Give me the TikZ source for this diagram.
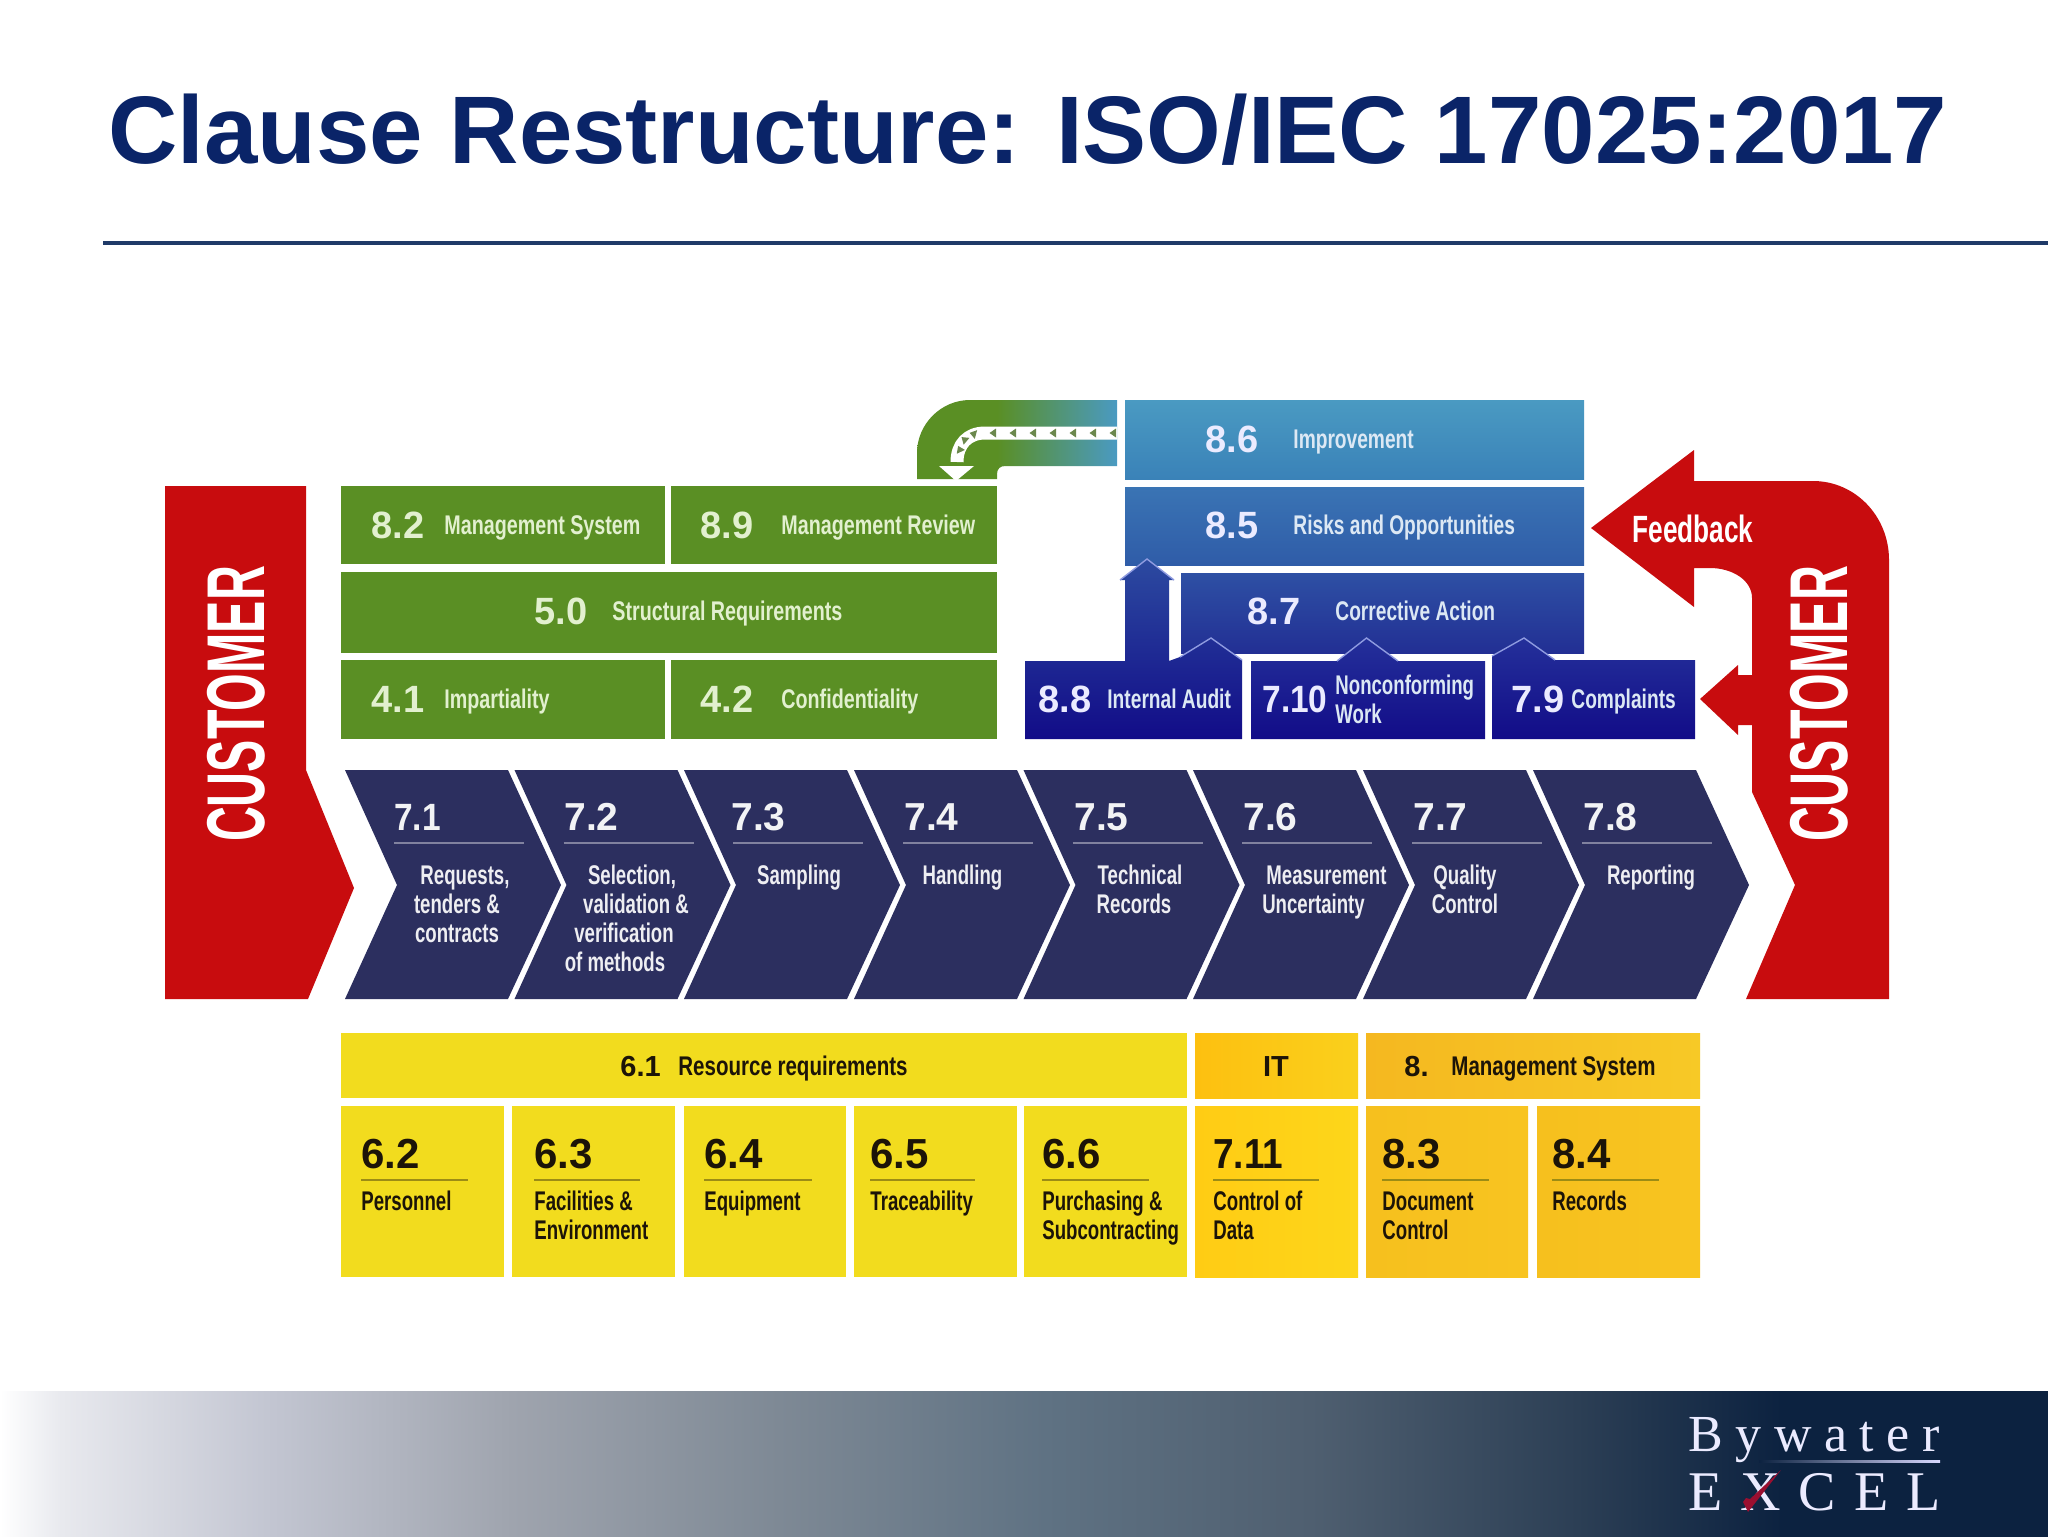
\documentclass[tikz,border=0pt]{standalone}
\usepackage{fontspec}
\setmainfont{Liberation Sans}
\newfontfamily\condf[FakeStretch=0.69]{Liberation Sans}
\newfontfamily\condg[FakeStretch=0.73]{Liberation Sans}
\newfontfamily\condb[FakeStretch=0.71]{Liberation Sans}
\newfontfamily\condy[FakeStretch=0.76]{Liberation Sans}
\newfontfamily\narrownum[FakeStretch=0.88]{Liberation Sans}
\newfontfamily\custf[FakeStretch=0.59]{Liberation Sans}
\newfontfamily\logof[LetterSpace=24]{Liberation Serif}
\newfontfamily\logoe[LetterSpace=32]{Liberation Serif}
\definecolor{navy}{HTML}{2C2F5F}
\definecolor{titleblue}{HTML}{0A2468}
\definecolor{rulec}{HTML}{1F3A68}
\definecolor{grn}{HTML}{5A8F24}
\definecolor{grntx}{HTML}{E2F0CF}
\definecolor{redc}{HTML}{C80C0E}
\definecolor{yel}{HTML}{F2DC1E}
\definecolor{bluetx}{HTML}{DCE8F4}
\definecolor{peak}{HTML}{8F9BE0}
\definecolor{ink}{HTML}{1C1408}
\definecolor{HTMLa}{HTML}{9FA4AE}
\definecolor{HTMLb}{HTML}{7E8995}
\definecolor{HTMLc}{HTML}{C3C6D2}
\definecolor{HTMLd}{HTML}{5F7283}
\definecolor{HTMLe}{HTML}{4F5F70}
\definecolor{HTMLf}{HTML}{2C3F55}
\definecolor{HTMLg}{HTML}{0C2240}
\definecolor{HTMLw}{HTML}{E8E9EE}
\definecolor{arcblue}{HTML}{4A9AC2}
\definecolor{blue86a}{HTML}{4A9AC2}
\definecolor{blue86b}{HTML}{3A82B8}
\definecolor{blue85a}{HTML}{3A74B4}
\definecolor{blue85b}{HTML}{2F5CA8}
\definecolor{blue87a}{HTML}{2E50A4}
\definecolor{blue87b}{HTML}{222F94}
\definecolor{blue88a}{HTML}{2C4AA0}
\definecolor{blue88b}{HTML}{120C88}
\definecolor{blue7a}{HTML}{24309A}
\definecolor{yA}{HTML}{FDC010}
\definecolor{yB}{HTML}{FAD01C}
\definecolor{yC}{HTML}{F5B820}
\definecolor{yD}{HTML}{F7C926}
\definecolor{yE}{HTML}{FFCC14}
\definecolor{yF}{HTML}{FDD61A}
\definecolor{yG}{HTML}{F6C01E}
\definecolor{yH}{HTML}{F8C420}
\definecolor{chk}{HTML}{9A0F30}
\pgfdeclarehorizontalshading{footershade}{100bp}{
 color(0bp)=(white); color(25bp)=(white); color(26.5bp)=(HTMLw); color(31.5bp)=(HTMLc);
 color(37.5bp)=(HTMLa); color(44bp)=(HTMLb); color(50.5bp)=(HTMLd);
 color(57bp)=(HTMLe); color(63.5bp)=(HTMLf); color(68.5bp)=(HTMLg); color(100bp)=(HTMLg)}
\pgfdeclarehorizontalshading{arcshade}{100bp}{
 color(0bp)=(grn); color(45bp)=(grn); color(75bp)=(arcblue); color(100bp)=(arcblue)}
\newcommand\fnum{\fontsize{19}{21}\selectfont\bfseries}
\newcommand\fnarrow{\fontsize{19}{21}\selectfont\narrownum\bfseries}
\newcommand\fnarrowy{\fontsize{21}{23}\selectfont\narrownum\bfseries}
\newcommand\fbig{\fontsize{19.5}{22}\selectfont\bfseries}
\newcommand\fyel{\fontsize{21}{23}\selectfont\bfseries}
\newcommand\fsmall{\fontsize{14.5}{16}\selectfont\bfseries}
\newcommand\fcond{\fontsize{13.5}{14.5}\selectfont\condf\bfseries}
\newcommand\fcondg{\fontsize{13.5}{14.5}\selectfont\condg\bfseries}
\newcommand\fcondb{\fontsize{13.5}{14.5}\selectfont\condb\bfseries}
\newcommand\fcondy{\fontsize{13.5}{14.5}\selectfont\condy\bfseries}
\newcommand\fcust{\fontsize{41}{46}\selectfont\custf\bfseries}
\newcommand\ffeed{\fontsize{19}{21}\selectfont\condf\bfseries}
\tikzset{
 num/.style={font=\fnum,inner sep=0pt,anchor=base west,yshift=-6.5pt},
 lab/.style={font=\fcond,inner sep=0pt,anchor=base west,yshift=-4.8pt},
 mlab/.style={font=\fcond,inner sep=0pt,anchor=west,align=left},
 clab/.style={font=\fcond,inner sep=0pt,anchor=center,align=center,text=white!92!navy},
 gtx/.style={text=grntx,font=\fcondg},
 gnum/.style={text=grntx},
 btx/.style={text=bluetx,font=\fcondb},
 bnum/.style={text=white!92!blue},
 ytx/.style={text=ink},
 hair/.style={line width=0.6pt},
 chev/.style={fill=navy},
 peakline/.style={draw=peak,line width=0.7pt},
 tick/.style={fill=grn!55!gray}
}
\begin{document}
\begin{tikzpicture}[x=0.5pt,y=-0.5pt]
\useasboundingbox (0,0) rectangle (2048,1536);
\fill[white] (0,0) rectangle (2048,1536);
% title
\node[font=\fontsize{48}{54}\selectfont\bfseries,text=titleblue,inner sep=0pt,anchor=base west] (title) at (108,163) {Clause Restructure: ISO/IEC 17025:2017};
\draw[rulec,line width=2pt] (103,243) -- (2048,243);
% left customer
\fill[redc] (165,486) -- (306,486) -- (306,770) -- (354,888) -- (308,999) -- (165,999) -- cycle;
\node[font=\fcust,text=white,rotate=90,inner sep=0pt] (custL) at (236,704) {CUSTOMER};
% right customer
\fill[redc] (1591,528) -- (1694,450) -- (1694,481) -- (1813,481) .. controls (1855,481) and (1889,516) .. (1889,560)
 -- (1889,999) -- (1746,999) -- (1795,885) -- (1752,792) -- (1752,725) -- (1738,725) -- (1738,735) -- (1700,699) -- (1738,665) -- (1738,675) -- (1752,675) -- (1752,598)
 .. controls (1752,580) and (1732,568) .. (1710,568) -- (1694,568) -- (1694,607) -- cycle;
\node[font=\fcust,text=white,rotate=90,inner sep=0pt] (custR) at (1819,704) {CUSTOMER};
\node[font=\ffeed,text=white,inner sep=0pt] (feed) at (1693,529) {Feedback};
% green arc arrow
\shade[shading=arcshade] (1117,400) -- (970,400) .. controls (941,400) and (917,424) .. (917,453) -- (917,479) -- (997,479) -- (997,474) .. controls (997,469) and (1000,466) .. (1005,466) -- (1117,466) -- cycle;
\draw[white,line width=6.5pt] (1117,433) -- (985,433) .. controls (968,433) and (957,444) .. (957,462);
\fill[white] (939,466) -- (974,466) -- (956,481) -- cycle;
\foreach \tx in {1114,1094,...,994}{\fill[tick,shift={(\tx,433)}] (-4.5,0) -- (2,-4.5) -- (2,4.5) -- cycle;}
\foreach \tx/\ty/\ta in {974/434/-15,965/440/-40,960/450/-65}{\fill[tick,shift={(\tx,\ty)},rotate=\ta] (-4.5,0) -- (2,-4.5) -- (2,4.5) -- cycle;}
% green boxes
\fill[grn] (341,486) rectangle (665,564);
\fill[grn] (671,486) rectangle (997,564);
\fill[grn] (341,572) rectangle (997,653);
\fill[grn] (341,660) rectangle (665,739);
\fill[grn] (671,660) rectangle (997,739);
\node[num,gnum] (n82) at (371,525) {8.2};
\node[lab,gtx] (t82) at (444,525) {Management System};
\node[num,gnum] (n89) at (700,525) {8.9};
\node[lab,gtx] (t89) at (781,525) {Management Review};
\node[num,gnum] (n50) at (534,611) {5.0};
\node[lab,gtx] (t50) at (612,611) {Structural Requirements};
\node[num,gnum] (n41) at (371,699) {4.1};
\node[lab,gtx] (t41) at (444,699) {Impartiality};
\node[num,gnum] (n42) at (700,699) {4.2};
\node[lab,gtx] (t42) at (781,699) {Confidentiality};
% blue boxes
\shade[top color=blue86a,bottom color=blue86b] (1125,400) rectangle (1584,479);
\shade[top color=blue85a,bottom color=blue85b] (1125,487) rectangle (1584,565);
\shade[top color=blue87a,bottom color=blue87b] (1181,573) rectangle (1584,653);
% 8.8 with up arrow and peak
\shade[top color=blue88a,bottom color=blue88b] (1025,739) -- (1025,661) -- (1125,661) -- (1125,580) -- (1120,580) -- (1147,559) -- (1174,580) -- (1169,580) -- (1169,661) -- (1180,657) -- (1211,638) -- (1242,660) -- (1242,739) -- cycle;
\draw[peakline] (1120,580) -- (1147,559) -- (1174,580);
\draw[peakline] (1180,657) -- (1211,638) -- (1242,660);
% 7.10
\shade[top color=blue7a,bottom color=blue88b] (1251,739) -- (1251,661) -- (1337,661) -- (1366.5,638) -- (1398,661) -- (1485,661) -- (1485,739) -- cycle;
\draw[peakline] (1337,661) -- (1366.5,638) -- (1398,661);
% 7.9
\shade[top color=blue7a,bottom color=blue88b] (1492,739) -- (1492,656) -- (1524,638) -- (1555,660) -- (1695,660) -- (1695,739) -- cycle;
\draw[peakline] (1492,656) -- (1524,638) -- (1555,660);
\node[num,bnum] (n86) at (1205,439) {8.6};
\node[lab,btx] (t86) at (1293,439) {Improvement};
\node[num,bnum] (n85) at (1205,525) {8.5};
\node[lab,btx] (t85) at (1293,525) {Risks and Opportunities};
\node[num,bnum] (n87) at (1247,611) {8.7};
\node[lab,btx] (t87) at (1335,611) {Corrective Action};
\node[num,bnum] (n88) at (1038,699) {8.8};
\node[lab,btx] (t88) at (1107,699) {Internal Audit};
\node[num,bnum,font=\fnarrow] (n710) at (1262,699) {7.10};
\node[mlab,text=bluetx] (t710) at (1335,699) {Nonconforming\\Work};
\node[num,bnum] (n79) at (1511,699) {7.9};
\node[lab,btx] (t79) at (1571,699) {Complaints};
% chevrons
\foreach \i/\cx in {0/345,1/514.5,2/684,3/854,4/1023.5,5/1193,6/1363,7/1533}{
 \fill[chev] (\cx,770) -- ({\cx+163},770) -- ({\cx+216},885) -- ({\cx+163},999) -- (\cx,999) -- ({\cx+52},885) -- cycle;
 \draw[white!40!navy,hair] ({\cx+49},843) -- ({\cx+179},843);
}
\foreach \nam/\tx/\lbl in {2/564/7.2,3/731/7.3,4/904/7.4,5/1074/7.5,6/1243/7.6,7/1413/7.7,8/1583/7.8}{
 \node[font=\fbig,text=white!94!navy,inner sep=0pt,anchor=base west,yshift=-7pt] (c\nam) at (\tx,816) {\lbl};
}
\node[font=\fnarrow,text=white!94!navy,inner sep=0pt,anchor=base west,yshift=-7pt] (c1) at (394,816) {7.1};
\node[clab] (l71) at (457,904) {\hspace*{8pt}Requests,\\tenders \&\\contracts};
\node[clab] (l72) at (624,918) {\hspace*{8pt}Selection,\\\hspace*{12pt}validation \&\\verification\\of methods\hspace*{9pt}};
\node[clab] (l73) at (799,878) {Sampling};
\node[clab] (l74) at (962.5,878) {Handling};
\node[clab] (l75) at (1137,889) {\hspace*{3pt}Technical\\Records\hspace*{3pt}};
\node[clab] (l76) at (1320,892) {\hspace*{6.5pt}Measurement\\Uncertainty\hspace*{6.5pt}};
\node[clab] (l77) at (1465,889) {Quality\\Control};
\node[clab] (l78) at (1651,878) {Reporting};
% yellow row 1
\fill[yel] (341,1033) rectangle (1187,1098);
\shade[left color=yA,right color=yB] (1195,1033) rectangle (1358,1098);
\shade[left color=yC,right color=yD] (1366,1033) rectangle (1700,1098);
\node[font=\fsmall,text=ink,inner sep=0pt,anchor=base west,yshift=-5pt] (n61) at (620,1066) {6.1};
\node[lab,ytx,font=\fcondy] (t61) at (678,1066) {Resource requirements};
\node[font=\fsmall,text=ink,inner sep=0pt,anchor=base,yshift=-5pt] (nit) at (1276,1066) {IT};
\node[font=\fsmall,text=ink,inner sep=0pt,anchor=base west,yshift=-5pt] (n8) at (1404,1066) {8.};
\node[lab,ytx,font=\fcondy] (t8) at (1451,1066) {Management System};
% yellow row 2
\fill[yel] (341,1106) rectangle (504,1277);
\fill[yel] (512,1106) rectangle (675,1277);
\fill[yel] (684,1106) rectangle (846,1277);
\fill[yel] (854,1106) rectangle (1017,1277);
\fill[yel] (1024,1106) rectangle (1187,1277);
\shade[left color=yE,right color=yF] (1195,1106) rectangle (1358,1277);
\shade[left color=yG,right color=yH] (1366,1106) rectangle (1528,1277);
\shade[left color=yG,right color=yH] (1537,1106) rectangle (1700,1277);
\foreach \nam/\tx/\tr/\lbl in {62/361/468/6.2,63/534/640/6.3,64/704/812/6.4,65/870/975/6.5,66/1042/1149/6.6,83/1382/1489/8.3,84/1552/1659/8.4}{
 \node[font=\fyel,text=ink,inner sep=0pt,anchor=base west,yshift=-7.5pt] (y\nam) at (\tx,1153) {\lbl};
 \draw[ink!40!yel,hair] (\tx,1180) -- (\tr,1180);
}
\node[font=\fnarrowy,text=ink,inner sep=0pt,anchor=base west,yshift=-7.5pt] (y711) at (1213,1153) {7.11};
\draw[ink!40!yel,hair] (1213,1180) -- (1319,1180);
\node[lab,ytx] (l62) at (361,1201) {Personnel};
\node[mlab,ytx] (l63) at (534,1215) {Facilities \&\\Environment};
\node[lab,ytx] (l64) at (704,1201) {Equipment};
\node[lab,ytx] (l65) at (870,1201) {Traceability};
\node[mlab,ytx] (l66) at (1042,1218) {Purchasing \&\\Subcontracting};
\node[mlab,ytx] (l711) at (1213,1215) {Control of\\Data};
\node[mlab,ytx] (l83) at (1382,1216) {Document\\Control};
\node[lab,ytx] (l84) at (1552,1201) {Records};
% footer
\shade[shading=footershade] (0,1391) rectangle (2048,1536);
\node[font=\fontsize{26}{28}\selectfont\logof,text=white!92!blue,inner sep=0pt,anchor=base west] (by) at (1688,1451) {Bywater};
\shade[left color=HTMLg,right color=white!85!blue] (1759,1460) rectangle (1940,1462.5);
\node[font=\fontsize{28}{30}\selectfont\logoe,text=white!92!blue,inner sep=0pt,anchor=base west] (ex) at (1688,1510) {EXCEL};
\fill[chk] (1743,1502) -- (1748,1512) -- (1781,1470) -- (1750,1499) -- (1746,1498) -- cycle;
\end{tikzpicture}
\end{document}
